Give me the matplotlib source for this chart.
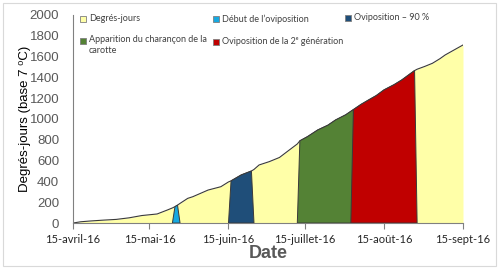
import matplotlib
matplotlib.use("Agg")
import matplotlib.pyplot as plt
from matplotlib.patches import Rectangle
import numpy as np
import pandas as pd

# cumulative degree-days (base 7 C)
dates = ["2016-04-15", "2016-04-18", "2016-04-22", "2016-04-27", "2016-05-02",
         "2016-05-07", "2016-05-12", "2016-05-18", "2016-05-22", "2016-05-24",
         "2016-05-25", "2016-05-26", "2016-05-27", "2016-05-30", "2016-06-01",
         "2016-06-04", "2016-06-07", "2016-06-12", "2016-06-15", "2016-06-16",
         "2016-06-20", "2016-06-24", "2016-06-25", "2016-06-27", "2016-07-01",
         "2016-07-05", "2016-07-08", "2016-07-12", "2016-07-13", "2016-07-16",
         "2016-07-20", "2016-07-24", "2016-07-27", "2016-07-31", "2016-08-03",
         "2016-08-06", "2016-08-09", "2016-08-12", "2016-08-15", "2016-08-19",
         "2016-08-22", "2016-08-27", "2016-08-28", "2016-08-31", "2016-09-03",
         "2016-09-06", "2016-09-08", "2016-09-12", "2016-09-15"]
degree_days = [0, 12, 20, 28, 35,
               50, 72, 87, 125, 145,
               157, 172, 189, 237, 253,
               285, 317, 349, 395, 405,
               462, 500, 515, 558, 590,
               630, 686, 760, 790, 830,
               894, 940, 990, 1040, 1090,
               1140, 1183, 1225, 1279, 1330,
               1375, 1465, 1478, 1505, 1535,
               1580, 1615, 1670, 1711]

# periods (start, end) shown as coloured bands
band_names = ["Début de l\u2019oviposition", "Oviposition \u2013 90 %",
              "Apparition du charançon de la\ncarotte",
              "Oviposition de la 2\u1d49 génération"]
band_starts = ["2016-05-25", "2016-06-16", "2016-07-13", "2016-08-03"]
band_ends = ["2016-05-26", "2016-06-24", "2016-08-03", "2016-08-27"]
band_colors = ["#16A9E1", "#1F4E79", "#548235", "#C00000"]
yellow = "#FFFFA8"

tick_dates = ["2016-04-15", "2016-05-15", "2016-06-15", "2016-07-15",
              "2016-08-15", "2016-09-15"]
tick_labels = ["15-avril-16", "15-mai-16", "15-juin-16", "15-juillet-16",
               "15-août-16", "15-sept-16"]

x = pd.to_datetime(dates)
y = np.array(degree_days)

W, H = 500, 271
fig = plt.figure(figsize=(W / 100, H / 100), dpi=100)
fig.patches.append(Rectangle((0.006, 0.018), 0.985, 0.97, transform=fig.transFigure,
                             fill=False, edgecolor="#D9D9D9", lw=0.8))
ax = fig.add_axes([0.146, 0.177, 0.78, 0.768])

edge = "#3A3A3A"
ax.fill_between(x, 0, y, color=yellow, lw=0)
ax.plot(x, y, color=edge, lw=0.8)

one_day = pd.Timedelta(days=1)
for s, e, c in zip(band_starts, band_ends, band_colors):
    s = pd.Timestamp(s)
    e = pd.Timestamp(e)
    m = (x >= s) & (x <= e)
    bx = [s - one_day] + list(x[m]) + [e + one_day]
    by = [0] + list(y[m]) + [0]
    ax.fill(bx, by, facecolor=c, edgecolor=edge, lw=0.7, zorder=3)

ax.set_xlim(pd.Timestamp("2016-04-15"), pd.Timestamp("2016-09-15"))
ax.set_ylim(0, 2000)
ax.set_yticks(range(0, 2001, 200))
ax.set_xticks(pd.to_datetime(tick_dates))
ax.set_xticklabels(tick_labels, fontsize=8, family="Lato", color="#262626")
for lab in ax.get_yticklabels():
    lab.set_fontsize(9.5)
    lab.set_color("#595959")
    lab.set_family("Liberation Sans")
ax.tick_params(axis="y", length=0, pad=10)
ax.tick_params(axis="x", length=4, color="#808080", direction="out", pad=4)
for sp in ["top", "right"]:
    ax.spines[sp].set_visible(False)
ax.spines["left"].set_color("#808080")
ax.spines["bottom"].set_color("#808080")

ax.set_ylabel("Degrés-jours (base 7 \u2070C)", fontsize=9.5,
              family=["Liberation Sans", "DejaVu Sans"], color="#000000",
              va="center")
ax.yaxis.set_label_coords(-0.123, 0.5)
ax.set_xlabel("Date", fontsize=13, fontweight="bold", color="#595959",
              family="Liberation Sans", labelpad=0)

# legend, placed by hand like the spreadsheet legend (pixel positions)
leg_labels = ["Degrés-jours"] + band_names
leg_colors = [yellow] + band_colors
leg_pos = [(80, 19), (213, 19), (345, 18), (80, 41), (213, 42)]
for lab, col, (px, py) in zip(leg_labels, leg_colors, leg_pos):
    fig.patches.append(Rectangle((px / W, 1 - (py + 3) / H), 6 / W, 6 / H,
                                 transform=fig.transFigure, facecolor=col,
                                 edgecolor="#7F7F7F", lw=0.6))
    va = "top" if "\n" in lab else "center"
    ty = py - 6 if "\n" in lab else py
    fig.text((px + 9) / W, 1 - ty / H, lab, fontsize=6.5, va=va, ha="left",
             family=["Lato", "DejaVu Sans"], color="#404040", linespacing=1.35)

fig.savefig("out.png", dpi=100)
